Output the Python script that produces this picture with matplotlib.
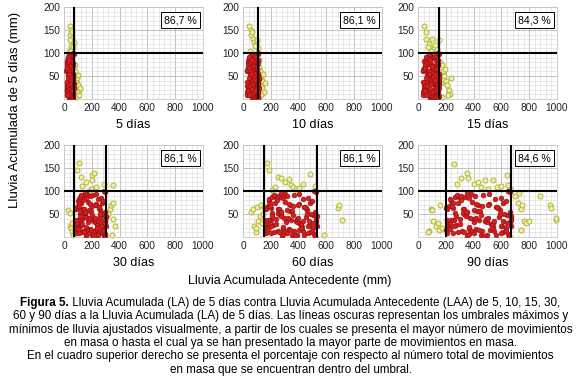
import matplotlib
matplotlib.use("Agg")
import matplotlib.pyplot as plt
from matplotlib.ticker import MultipleLocator, FixedLocator

plt.rcParams['font.family'] = ['Liberation Sans', 'DejaVu Sans']

# ---------------- data ----------------
panel_titles = ["5 días", "10 días", "15 días", "30 días", "60 días", "90 días"]
percentages = ["86,7 %", "86,1 %", "84,3 %", "86,1 %", "86,1 %", "84,6 %"]
x_ticks = [0, 200, 400, 600, 800, 1000]
y_ticks = [50, 100, 150, 200]

# horizontal threshold (LA 5 días) and vertical thresholds (LAA)
h_threshold = 100
v_thresholds = [[70], [110], [150], [75, 300], [150, 530], [200, 670]]

# LA 5 días of the events inside the threshold (red points)
la5_red = [62,18,85,40,71,9,55,93,27,66,3,48,79,35,12,58,90,22,44,7,
           30,74,5,51,88,16,63,39,97,25,70,47,11,82,36,60,2,77,29,53,
           49,8,67,92,20,42,75,14,57,33,86,4,61,24,96,38,15,69,45,81,
           83,37,59,13,46,94,28,68,6,52,21,87,41,73,17,64,32,99,10,56,
           14,65,31,78,54,3,89,43,19,72,38,60,26,91,50,8,67,34,84,23,
           12,28,35,18,40,22,30,15,45,5,10,25,38,48,33,20,8,2,55,42]

laa5_red = [22,45,61,33,52,18,68,40,27,57,36,64,25,49,30,59,43,20,66,38,
            55,28,47,63,34,19,58,42,70,26,51,37,62,23,46,31,67,41,54,29,
            35,60,21,48,65,39,24,56,44,69,32,50,17,61,37,27,53,45,66,30,
            58,24,41,63,35,52,20,47,68,33,56,26,43,62,38,18,50,65,29,46,
            40,57,23,64,36,49,31,60,21,44,67,34,53,28,59,42,25,55,39,70,
            48,30,62,22,51,37,66,45,27,58,33,61,19,47,41,56,24,64,35,52]
laa10_red = [40,78,105,55,92,30,110,68,45,98,62,108,38,85,50,100,74,33,112,64,
             95,48,80,106,58,28,99,71,111,42,88,60,104,36,79,52,109,70,93,47,
             57,102,35,83,107,66,39,96,75,110,54,86,27,103,61,44,90,76,112,51,
             97,41,69,106,59,89,32,81,111,56,94,43,73,104,65,29,87,108,49,77,
             67,99,37,107,60,84,53,101,34,74,110,57,91,46,100,71,40,95,63,112,
             82,50,105,38,87,62,109,76,44,98,55,103,31,80,68,94,41,108,58,89]
laa15_red = [50,105,142,72,125,38,148,92,60,133,84,146,48,116,66,136,100,42,150,86,
             128,63,109,144,78,35,135,96,149,55,120,81,140,46,107,70,147,94,126,62,
             76,138,45,113,145,89,52,130,101,148,73,117,33,139,82,58,122,103,150,68,
             131,54,93,143,79,121,40,110,149,75,127,57,99,141,87,36,118,146,64,104,
             90,134,49,145,80,114,71,137,44,100,148,77,123,61,135,96,53,129,85,150,
             111,67,142,51,118,83,147,102,59,132,74,139,39,108,91,127,56,146,78,120]
laa30_red = [110,190,265,130,230,85,295,165,120,250,155,285,100,215,135,260,185,95,300,160,
             240,125,200,275,145,82,255,175,298,115,225,150,270,105,195,140,290,170,235,118,
             148,262,98,210,280,168,108,245,188,296,128,220,88,268,152,112,232,192,300,138,
             248,102,178,278,150,228,90,205,293,142,242,114,184,272,162,84,222,288,124,196,
             172,252,96,282,154,214,136,258,92,186,297,146,236,122,262,180,106,244,158,299,
             208,132,270,100,218,160,286,194,116,248,144,266,86,204,176,238,110,292,150,226]
laa60_red = [200,330,470,240,400,165,520,300,215,440,280,505,190,380,250,460,320,175,528,290,
             420,230,355,490,265,158,450,310,525,205,395,270,480,185,345,255,515,305,410,210,
             260,465,180,370,500,295,195,430,335,522,235,390,162,475,275,205,405,340,530,245,
             435,188,315,495,270,400,168,360,512,255,425,208,325,485,290,160,390,508,225,350,
             305,445,178,498,275,375,245,455,170,330,526,260,415,222,462,318,192,430,285,529,
             365,238,478,182,385,288,505,340,212,438,258,468,163,358,312,418,200,515,272,398]
laa90_red = [255,420,600,300,510,210,660,380,270,560,350,640,240,480,320,590,410,220,668,370,
             540,290,450,620,335,205,575,395,665,260,505,345,610,230,440,325,655,390,525,265,
             330,595,225,470,635,375,250,545,425,662,295,495,208,605,350,260,515,430,670,310,
             555,235,400,630,345,510,215,460,650,325,540,265,415,615,365,203,495,645,285,445,
             390,565,228,635,350,475,310,580,218,420,668,330,530,280,590,405,245,550,365,669,
             460,300,610,232,490,370,640,440,270,560,330,600,212,455,400,535,255,655,345,505]

# events outside the threshold (yellow points)
yel5_x = [45,52,40,55,62,48,70,58,35,66,50,42,60,80,90,85,100,110,95,78,88,105,82,76,92,115,98]
yel5_y = [158,150,140,132,120,115,125,108,105,112,104,128,145,40,35,25,30,20,15,10,5,8,60,75,45,25,52]
yel10_x = [45,55,60,70,80,95,105,65,50,88,100,118,125,130,140,122,135,150,128,145,160,118]
yel10_y = [158,150,140,130,125,120,110,145,105,115,128,70,60,45,40,30,25,15,8,55,35,85]
yel15_x = [45,60,55,80,100,115,140,150,70,90,125,160,170,180,190,200,210,220,230,240,175,195,165,215]
yel15_y = [158,145,130,120,130,110,108,128,112,105,118,80,75,60,50,40,30,20,10,45,5,65,35,8]
yel30_x = [30,40,45,50,55,60,65,95,110,120,130,160,200,205,215,230,195,180,290,350,330,340,350,355,370,345,320]
yel30_y = [58,52,25,20,12,30,5,145,160,130,110,120,135,125,140,108,105,100,115,112,60,70,75,40,25,5,50]
yel60_x = [60,70,80,90,100,110,120,130,95,140,150,145,170,190,250,270,300,330,345,360,380,400,430,480,520,230,210,580,680,690,710]
yel60_y = [55,60,25,10,65,35,45,70,20,30,65,50,160,145,130,128,120,127,112,108,105,107,115,138,110,108,102,5,62,70,38]
yel90_x = [80,90,100,110,130,150,160,175,70,145,260,280,310,350,360,400,430,450,480,500,540,570,600,640,650,660,
           700,720,730,740,745,760,780,800,740,880,950,960,990,995]
yel90_y = [12,60,58,35,25,15,70,20,10,30,158,115,128,140,128,115,120,108,125,105,125,108,110,135,112,105,
           90,75,95,60,70,35,30,35,15,90,70,62,38,42]

red_x = [laa5_red, laa10_red, laa15_red, laa30_red, laa60_red, laa90_red]
yel_x = [yel5_x, yel10_x, yel15_x, yel30_x, yel60_x, yel90_x]
yel_y = [yel5_y, yel10_y, yel15_y, yel30_y, yel60_y, yel90_y]

caption_bold = "Figura 5."
caption_lines = [
    " Lluvia Acumulada (LA) de 5 días contra Lluvia Acumulada Antecedente (LAA) de 5, 10, 15, 30,",
    "60 y 90 días a la Lluvia Acumulada (LA) de 5 días. Las líneas oscuras representan los umbrales máximos y",
    "mínimos de lluvia ajustados visualmente, a partir de los cuales se presenta el mayor número de movimientos",
    "en masa o hasta el cual ya se han presentado la mayor parte de movimientos en masa.",
    "En el cuadro superior derecho se presenta el porcentaje con respecto al número total de movimientos",
    "en masa que se encuentran dentro del umbral.",
]

# ---------------- figure ----------------
W, H = 581, 387
fig = plt.figure(figsize=(W / 100, H / 100), dpi=100)

col_left = [64, 243, 418]
row_top = [7, 145]
ax_w, ax_h = 139, 92

def px_axes(left, top, w, h):
    return fig.add_axes([left / W, 1 - (top + h) / H, w / W, h / H])

tick_fs = 7.3
for i in range(6):
    r, c = divmod(i, 3)
    ax = px_axes(col_left[c], row_top[r], ax_w, ax_h)
    ax.set_xlim(0, 1000)
    ax.set_ylim(0, 200)
    ax.xaxis.set_major_locator(FixedLocator(x_ticks))
    ax.yaxis.set_major_locator(FixedLocator(y_ticks))
    ax.xaxis.set_minor_locator(MultipleLocator(40))
    ax.yaxis.set_minor_locator(MultipleLocator(10))
    ax.grid(which='minor', color='#dcdcdc', lw=0.45, zorder=0)
    ax.grid(which='major', color='#b8b8b8', lw=0.6, zorder=0)
    ax.set_axisbelow(True)
    ax.tick_params(which='both', length=0, labelsize=tick_fs, pad=3, colors='#222222')
    for s in ax.spines.values():
        s.set_color('#c8c8c8')
        s.set_linewidth(0.6)

    ax.scatter(yel_x[i], yel_y[i], s=13, facecolor='#eef0a6', edgecolor='#b4b43c',
               linewidths=0.7, zorder=2, clip_on=False)
    ax.scatter(red_x[i], la5_red, s=12, facecolor='#d71e1e', edgecolor='#8a0f0f',
               linewidths=0.4, zorder=3)

    ax.axhline(h_threshold, color='black', lw=1.5, zorder=4)
    for v in v_thresholds[i]:
        ax.axvline(v, color='black', lw=1.5, zorder=4)

    ax.text(0.84, 0.855, percentages[i], transform=ax.transAxes, ha='center', va='center',
            fontsize=7.6, zorder=6,
            bbox=dict(boxstyle='square,pad=0.28', fc='white', ec='black', lw=0.7))

    fig.text((col_left[c] + ax_w / 2) / W, 1 - (row_top[r] + ax_h + 26) / H, panel_titles[i],
             ha='center', va='center', fontsize=9)

fig.text(15 / W, 1 - 110 / H, "Lluvia Acumulada de 5 días (mm)", rotation=90,
         ha='center', va='center', fontsize=9.5)
fig.text(290 / W, 1 - 281 / H, "Lluvia Acumulada Antecedente (mm)",
         ha='center', va='center', fontsize=9)

# caption
cap_fs = 8.4
cx = 290.5
line_y = [303, 316.3, 329.6, 342.9, 356.2, 369.5]
renderer = fig.canvas.get_renderer()
tb = fig.text(0, 0, caption_bold, fontsize=cap_fs, fontweight='bold', ha='left', va='center')
tr = fig.text(0, 0, caption_lines[0], fontsize=cap_fs, ha='left', va='center')
wb = tb.get_window_extent(renderer).width
wr = tr.get_window_extent(renderer).width
x0 = cx - (wb + wr) / 2
tb.set_position((x0 / W, 1 - line_y[0] / H))
tr.set_position(((x0 + wb) / W, 1 - line_y[0] / H))
for k in range(1, 6):
    fig.text(cx / W, 1 - line_y[k] / H, caption_lines[k], fontsize=cap_fs,
             ha='center', va='center')

fig.savefig("out.png", dpi=100)
